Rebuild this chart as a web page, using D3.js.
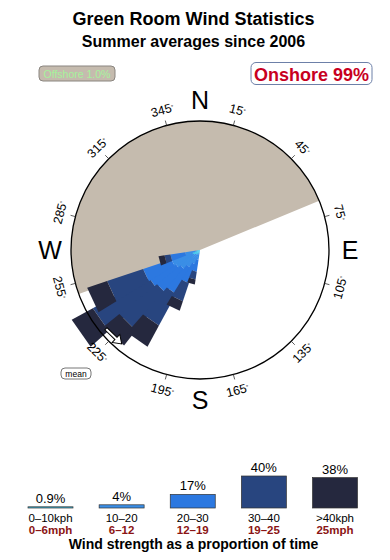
<!DOCTYPE html>
<html>
<head>
<meta charset="utf-8">
<script src="https://cdn.jsdelivr.net/npm/d3@7"></script>
<style>
  body { margin: 0; background: #fff; }
  text { font-family: "Liberation Sans", Arial, sans-serif; }
</style>
</head>
<body>
<script>
// wind rose bins (bearing of bin centre) and % of time per speed band
var directions = [195, 205, 215, 225, 235, 245, 255];
var s0_10  = [0.01, 0.02, 0.04, 0.05, 0.07, 0.09, 0.02];
var s10_20 = [0.13, 0.30, 0.54, 0.85, 1.06, 1.21, 0.30];
var s20_30 = [0.55, 1.44, 3.03, 3.46, 3.72, 3.89, 0.97];
var s30_40 = [0.60, 2.44, 7.06, 10.94, 16.61, 8.66, 0.57];
var s40up  = [0.47, 1.70, 6.78, 6.17, 9.28, 6.57, 0.68];

var speedKeys = ["s0", "s1", "s2", "s3", "s4"];
var legendPct = [0.9, 4, 17, 40, 38];
var legendPctText = ["0.9%", "4%", "17%", "40%", "38%"];
var kphLabels = ["0\u201310kph", "10\u201320", "20\u201330", "30\u201340", ">40kph"];
var mphLabels = ["0\u20136mph", "6\u201312", "12\u201319", "19\u201325", "25mph"];

var tickDegrees = [15, 45, 75, 105, 135, 165, 195, 225, 255, 285, 315, 345];
var cardinals = ["N", "E", "S", "W"];
var cardinalDegrees = [0, 90, 180, 270];

var offshoreFrom = 250, offshoreTo = 427.5;
var offshorePct = "1.0%", onshorePct = "99%";
var meanDirection = 224;

var colors = ["#3fc6ec", "#3a8ee6", "#2c78e0", "#28457f", "#25283e"];

var W = 390, H = 560, cx = 200, cy = 250, R = 129;
var rad = Math.PI / 180;

var svg = d3.select("body").append("svg")
  .attr("width", W).attr("height", H);

// titles
svg.append("text").attr("x", 193.5).attr("y", 25).attr("text-anchor", "middle")
  .style("font-size", "18px").style("font-weight", "bold").text("Green Room Wind Statistics");
svg.append("text").attr("x", 193.5).attr("y", 47).attr("text-anchor", "middle")
  .style("font-size", "16px").style("font-weight", "bold").text("Summer averages since 2006");

// offshore / onshore badges
svg.append("rect").attr("x", 39).attr("y", 66).attr("width", 76).attr("height", 15).attr("rx", 4)
  .attr("fill", "#c5bbae").attr("stroke", "#8a8580");
svg.append("text").attr("x", 77).attr("y", 77.5).attr("text-anchor", "middle")
  .style("font-size", "10.5px").attr("fill", "#a6f39c").text("Offshore " + offshorePct);
svg.append("rect").attr("x", 251).attr("y", 62.5).attr("width", 121).attr("height", 22).attr("rx", 5)
  .attr("fill", "#fff").attr("stroke", "#6d80a8");
svg.append("text").attr("x", 311.5).attr("y", 80.5).attr("text-anchor", "middle")
  .style("font-size", "18px").style("font-weight", "bold").attr("fill", "#c8001e").text("Onshore " + onshorePct);

var g = svg.append("g").attr("transform", "translate(" + cx + "," + cy + ")");

function px(a, r) { return Math.sin(a * rad) * r; }
function py(a, r) { return -Math.cos(a * rad) * r; }

// offshore sector
g.append("path")
  .attr("d", d3.arc().innerRadius(0).outerRadius(R)
    .startAngle(offshoreFrom * rad).endAngle(offshoreTo * rad)())
  .attr("fill", "#c5bbae");

// stacked rose, longest bins drawn first so the short ones sit on top
var table = directions.map(function (d, i) {
  return { dir: d, s0: s0_10[i], s1: s10_20[i], s2: s20_30[i], s3: s30_40[i], s4: s40up[i] };
});
var stacked = d3.stack().keys(speedKeys)(table);
var rScale = d3.scaleSqrt().domain([0, 24]).range([0, R]);
var half = 6.5;
var line = d3.line();

var order = d3.range(directions.length).sort(function (a, b) {
  return stacked[4][b][1] - stacked[4][a][1];
});

order.forEach(function (i) {
  var bin = g.append("g");
  stacked.forEach(function (layer, k) {
    var d = layer[i], a = d.data.dir, r0 = rScale(d[0]), r1 = rScale(d[1]);
    bin.append("path")
      .attr("fill", colors[k])
      .attr("d", line([
        [px(a - half, r0), py(a - half, r0)],
        [px(a - half, r1), py(a - half, r1)],
        [px(a + half, r1), py(a + half, r1)],
        [px(a + half, r0), py(a + half, r0)]
      ]) + "Z");
  });
});

// outer circle
g.append("circle").attr("r", R).attr("fill", "none").attr("stroke", "#000").attr("stroke-width", 1.3);

// ticks and degree labels
tickDegrees.forEach(function (t) {
  g.append("line")
    .attr("x1", px(t, R)).attr("y1", py(t, R))
    .attr("x2", px(t, R + 5)).attr("y2", py(t, R + 5))
    .attr("stroke", "#333").attr("stroke-width", 0.8);
  var rot = (t > 90 && t < 270) ? t - 180 : t;
  var lab = g.append("text")
    .attr("transform", "translate(" + px(t, 145) + "," + py(t, 145) + ") rotate(" + rot + ")")
    .attr("text-anchor", "middle").attr("dy", "0.35em")
    .style("font-size", "12.5px");
  lab.append("tspan").text(t);
  lab.append("tspan").attr("dy", "-0.45em").style("font-size", "6px").text("\u00b0");
});

cardinals.forEach(function (c, i) {
  var a = cardinalDegrees[i];
  g.append("text").attr("x", px(a, 150)).attr("y", py(a, 150)).attr("dy", "0.36em")
    .attr("text-anchor", "middle").style("font-size", "25px").text(c);
});

// mean arrow
var arrow = g.append("g")
  .attr("transform", "translate(" + px(meanDirection, 122) + "," + py(meanDirection, 122) + ") rotate(" + (meanDirection - 180) + ")");
arrow.append("path")
  .attr("d", "M-13,-1.5L1,-1.5L1,-5.5L9,0L1,5.5L1,1.5L-13,1.5Z")
  .attr("fill", "#fff").attr("stroke", "#000").attr("stroke-width", 1);

svg.append("rect").attr("x", 61).attr("y", 368).attr("width", 30).attr("height", 11).attr("rx", 4)
  .attr("fill", "#fff").attr("stroke", "#777");
svg.append("text").attr("x", 76).attr("y", 376.5).attr("text-anchor", "middle")
  .style("font-size", "8.5px").text("mean");

// legend
var lx = d3.scalePoint().domain(d3.range(5)).range([50.5, 335]);
var lh = d3.scaleLinear().domain([0, 40]).range([0, 32]);
var base = 508, bw = 45;

legendPct.forEach(function (p, i) {
  var h = Math.max(lh(p), 1.2);
  svg.append("rect").attr("x", lx(i) - bw / 2).attr("y", base - h).attr("width", bw).attr("height", h)
    .attr("fill", colors[i]).attr("stroke", "#333").attr("stroke-width", 0.7);
  svg.append("text").attr("x", lx(i)).attr("y", base - h - 4).attr("text-anchor", "middle")
    .style("font-size", "13px").text(legendPctText[i]);
  svg.append("text").attr("x", lx(i)).attr("y", 522).attr("text-anchor", "middle")
    .style("font-size", "11.5px").text(kphLabels[i]);
  svg.append("text").attr("x", lx(i)).attr("y", 534).attr("text-anchor", "middle")
    .style("font-size", "11.5px").style("font-weight", "bold").attr("fill", "#8b1414").text(mphLabels[i]);
});

svg.append("text").attr("x", 193.5).attr("y", 549).attr("text-anchor", "middle")
  .style("font-size", "14px").style("font-weight", "bold").text("Wind strength as a proportion of time");
</script>
</body>
</html>
